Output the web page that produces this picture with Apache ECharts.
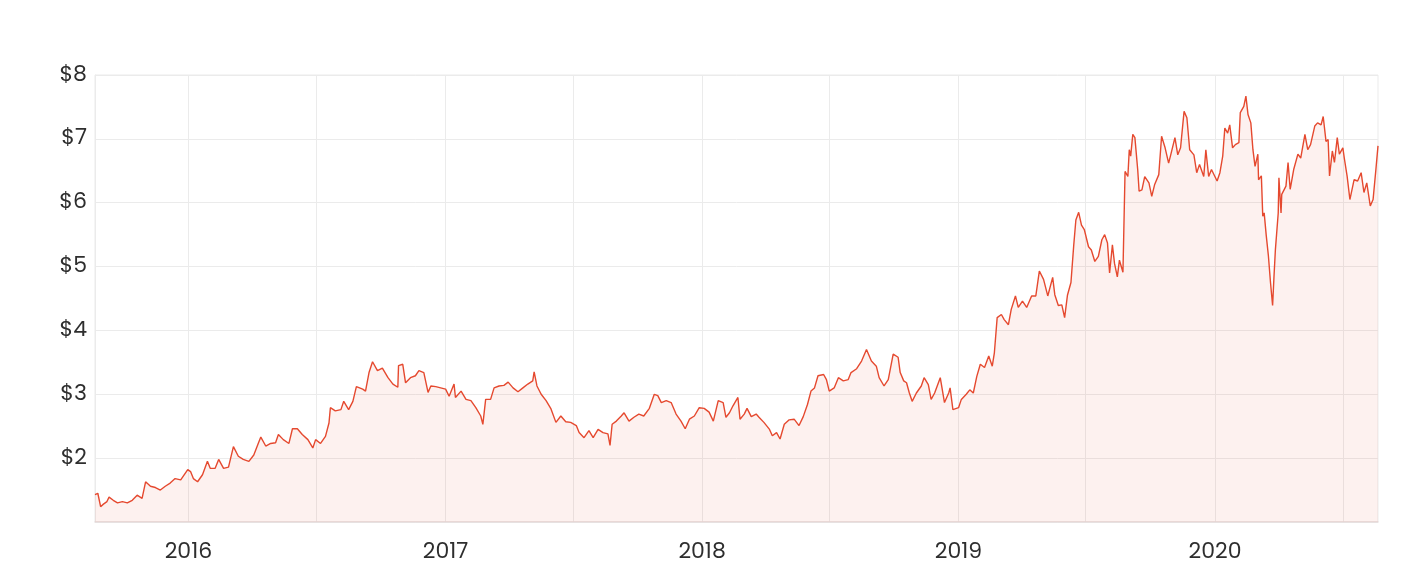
<!DOCTYPE html>
<html>
<head>
<meta charset="utf-8">
<script src="https://cdn.jsdelivr.net/npm/echarts@6/dist/echarts.min.js"></script>
<style>
html,body{margin:0;padding:0;background:#fff;}
#chart{width:1424px;height:586px;}
</style>
</head>
<body>
<div id="chart"></div>
<script>
const dates = [
'2015-08-21','2015-08-25','2015-08-29','2015-09-02','2015-09-07','2015-09-10','2015-09-16','2015-09-22','2015-09-29','2015-10-06',
'2015-10-13','2015-10-20','2015-10-27','2015-11-01','2015-11-08','2015-11-15','2015-11-22','2015-11-29','2015-12-06','2015-12-13',
'2015-12-21','2015-12-31','2016-01-04','2016-01-08','2016-01-14','2016-01-21','2016-01-28','2016-02-01','2016-02-08','2016-02-13',
'2016-02-20','2016-02-27','2016-03-05','2016-03-12','2016-03-19','2016-03-27','2016-04-03','2016-04-10','2016-04-13','2016-04-20',
'2016-04-27','2016-05-04','2016-05-08','2016-05-15','2016-05-23','2016-05-28','2016-06-04','2016-06-11','2016-06-19','2016-06-26',
'2016-06-30','2016-07-07','2016-07-14','2016-07-19','2016-07-21','2016-07-28','2016-08-05','2016-08-09','2016-08-16','2016-08-22',
'2016-08-27','2016-09-05','2016-09-09','2016-09-14','2016-09-19','2016-09-26','2016-10-03','2016-10-11','2016-10-18','2016-10-25',
'2016-10-26','2016-11-01','2016-11-05','2016-11-12','2016-11-19','2016-11-24','2016-12-01','2016-12-07','2016-12-11','2016-12-18',
'2016-12-25','2017-01-01','2017-01-06','2017-01-13','2017-01-15','2017-01-23','2017-01-30','2017-02-06','2017-02-13','2017-02-20',
'2017-02-23','2017-02-27','2017-03-06','2017-03-11','2017-03-18','2017-03-25','2017-03-31','2017-04-07','2017-04-14','2017-04-21',
'2017-04-28','2017-05-05','2017-05-07','2017-05-11','2017-05-17','2017-05-24','2017-05-31','2017-06-07','2017-06-14','2017-06-21',
'2017-06-28','2017-07-06','2017-07-10','2017-07-17','2017-07-24','2017-07-30','2017-08-06','2017-08-13','2017-08-20','2017-08-23',
'2017-08-26','2017-09-01','2017-09-08','2017-09-12','2017-09-19','2017-09-26','2017-10-03','2017-10-10','2017-10-18','2017-10-25',
'2017-10-30','2017-11-04','2017-11-11','2017-11-18','2017-11-25','2017-12-02','2017-12-08','2017-12-14','2017-12-21','2017-12-28',
'2018-01-04','2018-01-11','2018-01-17','2018-01-24','2018-01-31','2018-02-04','2018-02-09','2018-02-14','2018-02-21','2018-02-24',
'2018-03-02','2018-03-06','2018-03-12','2018-03-19','2018-03-23','2018-03-30','2018-04-07','2018-04-11','2018-04-17','2018-04-22',
'2018-04-28','2018-05-05','2018-05-12','2018-05-19','2018-05-25','2018-05-31','2018-06-05','2018-06-10','2018-06-15','2018-06-23',
'2018-06-27','2018-07-01','2018-07-08','2018-07-14','2018-07-21','2018-07-28','2018-08-01','2018-08-09','2018-08-16','2018-08-23',
'2018-08-30','2018-09-06','2018-09-10','2018-09-17','2018-09-23','2018-09-30','2018-10-07','2018-10-10','2018-10-15','2018-10-19',
'2018-10-23','2018-10-27','2018-11-02','2018-11-09','2018-11-13','2018-11-19','2018-11-23','2018-11-28','2018-12-06','2018-12-12',
'2018-12-18','2018-12-20','2018-12-24','2019-01-01','2019-01-05','2019-01-12','2019-01-17','2019-01-22','2019-01-27','2019-02-01',
'2019-02-07','2019-02-13','2019-02-18','2019-02-21','2019-02-25','2019-03-03','2019-03-07','2019-03-13','2019-03-17','2019-03-23',
'2019-03-27','2019-04-02','2019-04-08','2019-04-15','2019-04-21','2019-04-26','2019-05-02','2019-05-08','2019-05-15','2019-05-18',
'2019-05-23','2019-05-28','2019-06-01','2019-06-05','2019-06-10','2019-06-14','2019-06-17','2019-06-21','2019-06-25','2019-06-29',
'2019-07-05','2019-07-09','2019-07-14','2019-07-19','2019-07-24','2019-07-28','2019-08-01','2019-08-04','2019-08-08','2019-08-11',
'2019-08-15','2019-08-18','2019-08-23','2019-08-25','2019-08-26','2019-08-30','2019-09-01','2019-09-03','2019-09-06','2019-09-09',
'2019-09-13','2019-09-15','2019-09-19','2019-09-23','2019-09-29','2019-10-03','2019-10-07','2019-10-13','2019-10-17','2019-10-22',
'2019-10-27','2019-10-30','2019-11-05','2019-11-09','2019-11-13','2019-11-18','2019-11-22','2019-11-26','2019-12-02','2019-12-06',
'2019-12-10','2019-12-16','2019-12-19','2019-12-23','2019-12-27','2020-01-04','2020-01-08','2020-01-12','2020-01-15','2020-01-19',
'2020-01-22','2020-01-26','2020-01-30','2020-02-04','2020-02-06','2020-02-11','2020-02-14','2020-02-17','2020-02-21','2020-02-24',
'2020-02-27','2020-03-02','2020-03-03','2020-03-07','2020-03-09','2020-03-11','2020-03-14','2020-03-17','2020-03-20','2020-03-23',
'2020-03-25','2020-03-27','2020-03-31','2020-04-01','2020-04-04','2020-04-05','2020-04-11','2020-04-14','2020-04-17','2020-04-22',
'2020-04-28','2020-05-02','2020-05-08','2020-05-12','2020-05-16','2020-05-22','2020-05-26','2020-05-31','2020-06-03','2020-06-07',
'2020-06-10','2020-06-12','2020-06-16','2020-06-19','2020-06-23','2020-06-26','2020-07-01','2020-07-03','2020-07-07','2020-07-11',
'2020-07-17','2020-07-22','2020-07-27','2020-07-31','2020-08-04','2020-08-09','2020-08-13','2020-08-17','2020-08-20'
];
const prices = [
1.43,1.45,1.24,1.28,1.32,1.39,1.34,1.30,1.32,1.30,
1.34,1.42,1.37,1.63,1.56,1.54,1.50,1.56,1.61,1.68,
1.66,1.82,1.79,1.68,1.63,1.74,1.95,1.84,1.84,1.98,
1.84,1.86,2.18,2.03,1.98,1.95,2.05,2.25,2.33,2.19,
2.23,2.24,2.37,2.29,2.23,2.46,2.46,2.37,2.29,2.16,
2.29,2.23,2.34,2.55,2.79,2.74,2.76,2.89,2.76,2.89,
3.12,3.08,3.05,3.34,3.51,3.37,3.41,3.26,3.16,3.11,
3.45,3.47,3.18,3.26,3.29,3.37,3.34,3.03,3.13,3.12,
3.10,3.08,2.97,3.16,2.95,3.05,2.92,2.90,2.79,2.66,
2.53,2.92,2.92,3.10,3.13,3.14,3.19,3.10,3.04,3.10,
3.16,3.21,3.35,3.13,3.00,2.90,2.77,2.56,2.66,2.57,
2.56,2.51,2.40,2.32,2.43,2.32,2.45,2.40,2.38,2.20,
2.53,2.58,2.66,2.71,2.58,2.64,2.69,2.66,2.78,3.00,
2.98,2.87,2.90,2.87,2.69,2.58,2.46,2.61,2.66,2.79,
2.78,2.72,2.58,2.90,2.87,2.64,2.71,2.82,2.95,2.61,
2.69,2.78,2.65,2.69,2.64,2.56,2.45,2.35,2.40,2.30,
2.53,2.60,2.61,2.51,2.65,2.84,3.05,3.10,3.29,3.31,
3.23,3.05,3.10,3.26,3.21,3.23,3.34,3.40,3.52,3.70,
3.52,3.44,3.26,3.13,3.23,3.63,3.58,3.34,3.21,3.18,
3.02,2.89,3.02,3.13,3.26,3.15,2.92,3.02,3.26,2.87,
3.02,3.10,2.76,2.79,2.92,3.00,3.07,3.02,3.28,3.47,
3.42,3.60,3.44,3.65,4.20,4.25,4.17,4.09,4.33,4.54,
4.36,4.46,4.36,4.54,4.54,4.93,4.80,4.54,4.83,4.56,
4.39,4.40,4.20,4.55,4.75,5.34,5.73,5.85,5.65,5.58,
5.31,5.26,5.08,5.16,5.42,5.50,5.37,4.90,5.34,5.05,
4.84,5.10,4.91,4.92,6.49,6.41,6.83,6.73,7.07,7.02,
6.52,6.18,6.20,6.41,6.31,6.10,6.28,6.44,7.04,6.86,
6.62,6.75,7.02,6.75,6.86,7.43,7.33,6.83,6.75,6.47,
6.60,6.41,6.83,6.41,6.52,6.34,6.47,6.73,7.17,7.09,
7.22,6.86,6.91,6.94,7.41,7.51,7.67,7.38,7.25,6.83,
6.57,6.76,6.36,6.42,5.79,5.84,5.48,5.17,4.75,4.39,
4.85,5.27,5.84,6.39,5.84,6.13,6.26,6.63,6.21,6.52,
6.76,6.70,7.07,6.83,6.91,7.20,7.25,7.22,7.35,6.96,
6.99,6.42,6.81,6.63,7.02,6.76,6.86,6.70,6.42,6.05,
6.36,6.34,6.47,6.16,6.31,5.95,6.05,6.52,6.89
];
const tickDates = ['2016-01-01','2016-07-01','2017-01-01','2017-07-01','2018-01-01','2018-07-01','2019-01-01','2019-07-01','2020-01-01','2020-07-01'];
const labelDates = ['2016-01-01','2017-01-01','2018-01-01','2019-01-01','2020-01-01'];
const yTicks = [1,2,3,4,5,6,7,8];

const ts = s => echarts.number.parseDate(s).getTime();
const seriesData = dates.map((d, i) => [ts(d), prices[i]]);

const chart = echarts.init(document.getElementById('chart'), null, {renderer: 'canvas'});
const FONT = 'Poppins, Inter, "Open Sans", sans-serif';
chart.setOption({
  animation: false,
  backgroundColor: '#ffffff',
  grid: {left: 95, right: 46, top: 75, bottom: 64, show: true, borderColor: '#ebebeb', borderWidth: 1},
  xAxis: {
    type: 'value',
    scale: true,
    min: ts(dates[0]),
    max: ts(dates[dates.length - 1]),
    axisLine: {show: true, lineStyle: {color: '#e6dede', width: 1.5}},
    axisTick: {show: false, customValues: tickDates.map(ts)},
    splitLine: {show: true, lineStyle: {color: '#ebebeb', width: 1}},
    axisLabel: {
      customValues: labelDates.map(ts),
      formatter: v => String(new Date(v).getFullYear()),
      color: '#2e2e2e',
      fontSize: 22,
      fontFamily: FONT,
      margin: 19
    }
  },
  yAxis: {
    type: 'value',
    min: yTicks[0],
    max: yTicks[yTicks.length - 1],
    interval: 1,
    axisLine: {show: true, lineStyle: {color: '#ebebeb'}},
    axisTick: {show: false},
    splitLine: {show: true, lineStyle: {color: '#ebebeb', width: 1}},
    axisLabel: {
      showMinLabel: false,
      formatter: v => '$' + v,
      color: '#2e2e2e',
      fontSize: 22,
      fontFamily: FONT,
      margin: 8
    }
  },
  series: [{
    type: 'line',
    data: seriesData,
    showSymbol: false,
    symbol: 'none',
    lineStyle: {color: '#e5492f', width: 1.4},
    areaStyle: {color: 'rgba(229,73,47,0.11)', origin: 'start'},
    z: 3
  }]
});
</script>
</body>
</html>
